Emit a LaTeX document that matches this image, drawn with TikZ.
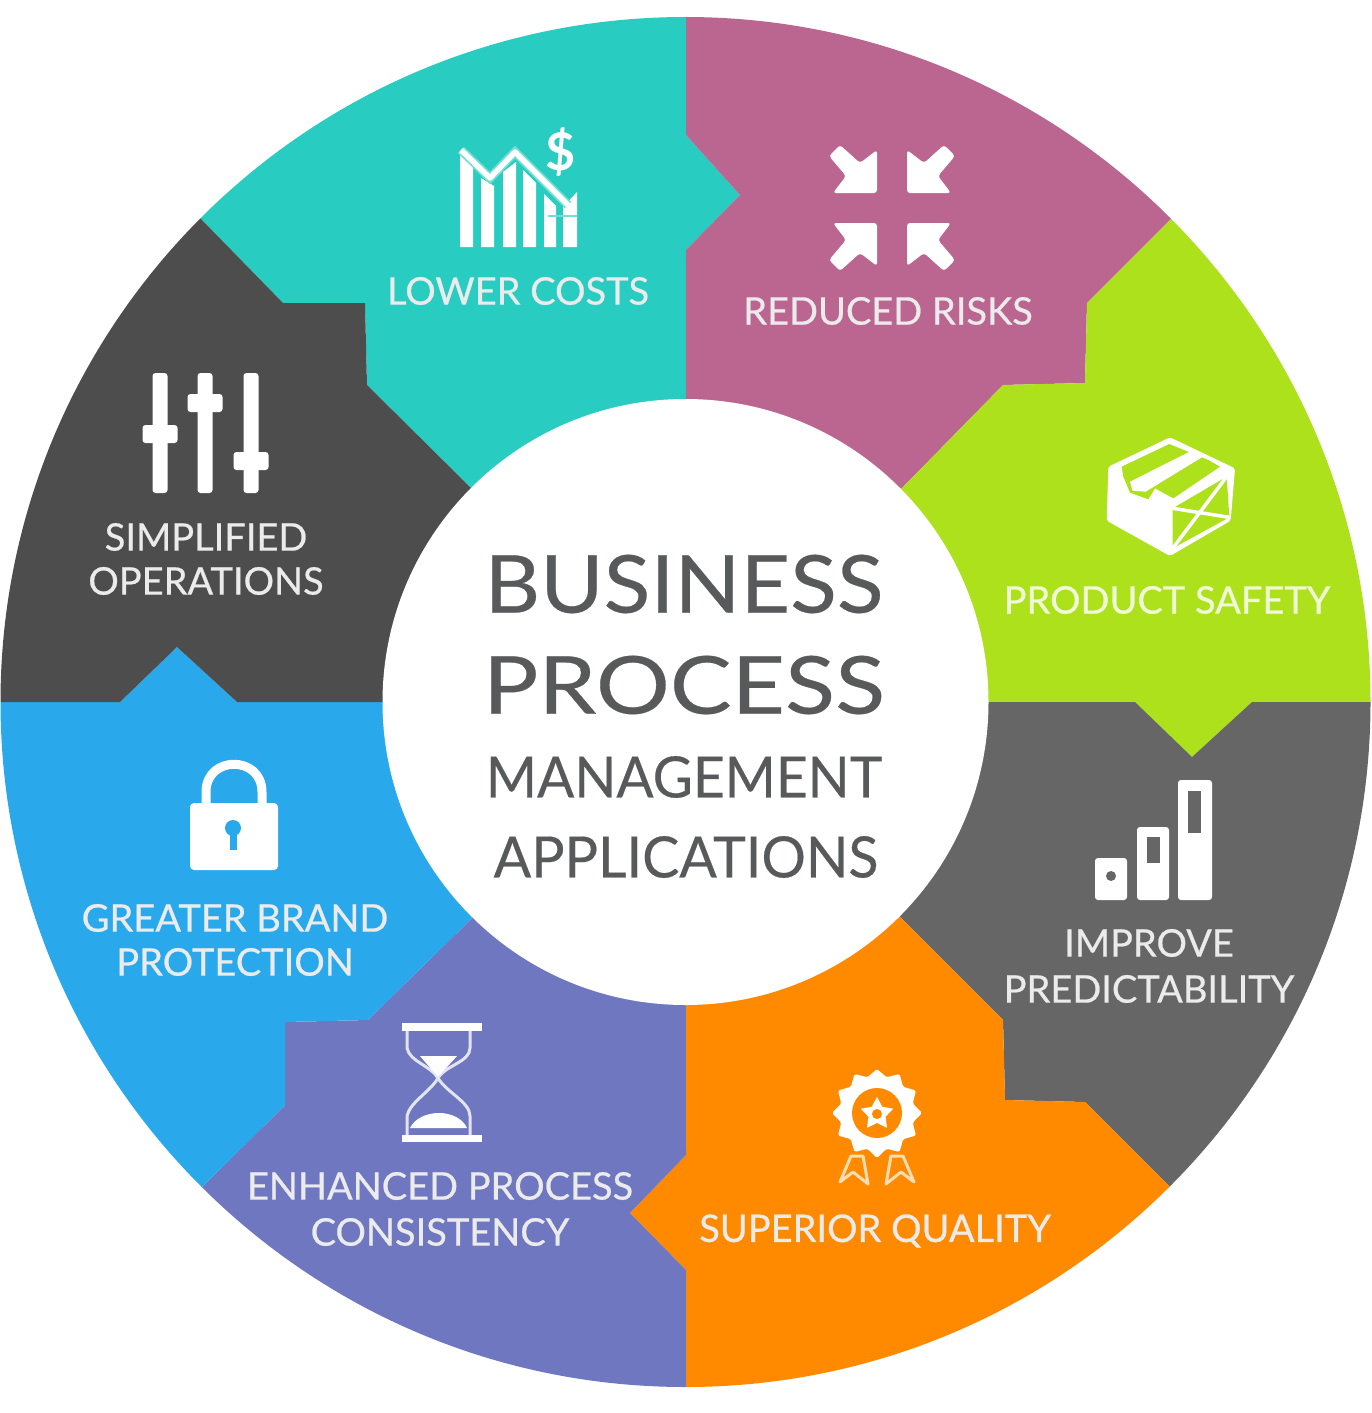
\documentclass[tikz,border=0pt]{standalone}
\usepackage{graphicx}
\usepackage{fontspec}
\setmainfont{Lato}
\newfontfamily\labelfont{Lato}[FakeBold=0.6]
\newfontfamily\hubfont{Lato}[FakeBold=0.3]
\definecolor{tealseg}{HTML}{29CCC0}
\definecolor{pinkseg}{HTML}{BA6690}
\definecolor{limeseg}{HTML}{ADE11C}
\definecolor{darkseg}{HTML}{4D4D4D}
\definecolor{greyseg}{HTML}{666666}
\definecolor{orangeseg}{HTML}{FF8A00}
\definecolor{purpleseg}{HTML}{6E77C0}
\definecolor{blueseg}{HTML}{29A9EB}
\definecolor{hubtext}{HTML}{58595B}
\tikzset{
  seglabel/.style = {text = white!92!black, font = \labelfont\fontsize{38}{44}\selectfont, align = center, inner sep = 0pt},
  seglabelwide/.style = {seglabel, font = \labelfont\fontsize{38}{46}\selectfont},
  hubbig/.style = {text = hubtext, font = \hubfont\fontsize{80}{80}\selectfont, inner sep = 0pt},
  hubsmall/.style = {text = hubtext, font = \hubfont\fontsize{57}{57}\selectfont, inner sep = 0pt},
  icon/.style = {fill = white, draw = none},
  iconline/.style = {draw = white, line join = round}
}
\begin{document}
\begin{tikzpicture}[x = 1pt, y = -1pt]
\useasboundingbox (0,0) rectangle (1371,1413);
\coordinate (c) at (685.5,702);
% segments, the rim comes from the clip
\begin{scope}
\clip (c) circle (685);
\fill[tealseg] (c) -- (686,250) -- (740,195) -- (686,135) -- (686,0) -- (100,0) -- (100,118) -- (202,220) -- (283,303) -- (365,303) -- (367,385) -- (470,487) -- cycle;
\fill[pinkseg] (c) -- (686,250) -- (740,195) -- (686,135) -- (686,0) -- (1271,0) -- (1271,118) -- (1170,220) -- (1087,303) -- (1085,383) -- (1003,385) -- (903,487) -- cycle;
\fill[limeseg] (c) -- (903,487) -- (1003,385) -- (1085,383) -- (1087,303) -- (1170,220) -- (1271,118) -- (1371,118) -- (1371,702) -- (1252,702) -- (1192,757) -- (1135,702) -- cycle;
\fill[greyseg] (c) -- (1135,702) -- (1192,757) -- (1252,702) -- (1371,702) -- (1371,1288) -- (1271,1288) -- (1170,1187) -- (1085,1102) -- (1005,1100) -- (1003,1020) -- (903,920) -- cycle;
\fill[orangeseg] (c) -- (903,920) -- (1003,1020) -- (1005,1100) -- (1085,1102) -- (1170,1187) -- (1271,1288) -- (1271,1400) -- (686,1400) -- (686,1270) -- (630,1213) -- (686,1155) -- cycle;
\fill[purpleseg] (c) -- (686,1155) -- (630,1213) -- (686,1270) -- (686,1400) -- (100,1400) -- (100,1288) -- (202,1187) -- (285,1105) -- (285,1022) -- (368,1020) -- (470,920) -- cycle;
\fill[blueseg] (c) -- (470,920) -- (368,1020) -- (285,1022) -- (285,1105) -- (202,1187) -- (100,1288) -- (0,1288) -- (0,702) -- (120,702) -- (177,647) -- (237,702) -- cycle;
\fill[darkseg] (c) -- (237,702) -- (177,647) -- (120,702) -- (0,702) -- (0,118) -- (100,118) -- (202,220) -- (283,303) -- (365,303) -- (367,385) -- (470,487) -- cycle;
\end{scope}
\node[circle, fill = white, minimum size = 606pt, inner sep = 0pt] (hub) at (c) {};
% centre text
\node[hubbig] (business) at (684,584) {\scalebox{1.077}[1]{BUSINESS}};
\node[hubbig] (process) at (684,685) {\scalebox{1.155}[1]{PROCESS}};
\node[hubsmall] (management) at (684,777) {\scalebox{0.966}[1]{MANAGEMENT}};
\node[hubsmall] (applications) at (686,857) {\scalebox{0.975}[1]{APPLICATIONS}};
% labels
\node[seglabel] (costs) at (518,291) {LOWER COSTS};
\node[seglabel] (risks) at (888,311) {REDUCED RISKS};
\node[seglabel, text = white!82!limeseg] (safety) at (1167,600) {PRODUCT SAFETY};
\node[seglabelwide] (predict) at (1149,966) {IMPROVE\\PREDICTABILITY};
\node[seglabel] (quality) at (875,1231) {SUPERIOR QUALITY};
\node[seglabelwide] (consist) at (440,1209) {ENHANCED PROCESS\\CONSISTENCY};
\node[seglabel] (brand) at (235,940) {GREATER BRAND\\PROTECTION};
\node[seglabel] (simple) at (206,559) {SIMPLIFIED\\OPERATIONS};
% falling bars
\fill[icon] (460,247) -- (460,153) -- (473,166) -- (473,247) -- cycle;
\fill[icon] (481,247) -- (481,178) -- (494,186) -- (494,247) -- cycle;
\fill[icon] (503,247) -- (503,172) -- (516,162) -- (516,247) -- cycle;
\fill[icon] (523,247) -- (523,170) -- (536,183) -- (536,247) -- cycle;
\fill[icon] (544,247) -- (544,194) -- (556,206) -- (556,247) -- cycle;
\fill[icon] (563,247) -- (563,207) -- (577,192) -- (577,247) -- cycle;
\draw[white!35!tealseg, line width = 9pt] (461,150) -- (490,178) -- (515,152) -- (568,205);
\draw[iconline, line width = 5.5pt] (461,150) -- (490,178) -- (515,152) -- (568,205);
\draw[white!35!tealseg, line width = 2pt] (548,216) -- (577,216);
\node[text = white, font = \fontsize{52}{52}\selectfont\bfseries, inner sep = 0pt] (dollar) at (561,152) {\$};
% arrows going in
\foreach \sx/\sy in {-1/-1, 1/-1, -1/1, 1/1} {
  \begin{scope}[shift = {(892,208)}, xscale = \sx, yscale = -\sy]
    \fill[icon, rounded corners = 3pt] (15,-15) -- (15,-58) -- (32,-45) -- (52,-63) -- (63,-52) -- (46,-32) -- (59,-15) -- cycle;
  \end{scope}
}
% box
\begin{scope}[shift = {(1080,420)}, scale = 1/3]
\fill[icon, rounded corners = 2pt] (270,52) -- (465,145) -- (452,302) -- (270,408) -- (80,302) -- (85,140) -- cycle;
\fill[limeseg] (125,140) -- (268,72) -- (385,120) -- (420,140) -- (280,235) -- (225,205) -- (205,238) -- (150,218) -- (130,170) -- cycle;
\fill[icon] (150,185) -- (335,92) -- (372,108) -- (197,215) -- (157,212) -- cycle;
\fill[limeseg] (278,265) -- (440,170) -- (448,292) -- (278,385) -- cycle;
\draw[iconline, line width = 3.5pt] (278,265) -- (448,292) (278,385) -- (440,170);
\end{scope}
% bars
\fill[icon, rounded corners = 3pt] (1095,858) rectangle (1127,900);
\fill[icon, rounded corners = 3pt] (1137,827) rectangle (1169,900);
\fill[icon, rounded corners = 3pt] (1178,780) rectangle (1212,900);
\fill[greyseg] (1111,876) circle (5);
\fill[greyseg] (1147,837) rectangle (1160,863);
\fill[greyseg] (1188,791) rectangle (1201,833);
% badge
\fill[icon, rounded corners = 1.5pt] (877,1069) \foreach \a in {1,...,23} { -- ({877+(iseven(\a) ? 45 : 37)*sin(15*\a)},{1113-(iseven(\a) ? 45 : 37)*cos(15*\a)}) } -- cycle;
\fill[orangeseg] (877,1113) circle (25);
\fill[icon] (877,1097) \foreach \a in {1,...,9} { -- ({877+(iseven(\a) ? 17 : 9)*sin(36*\a)},{1114-(iseven(\a) ? 17 : 9)*cos(36*\a)}) } -- cycle;
\fill[orangeseg] (877,1114) circle (5);
\draw[iconline, draw = white!70!orangeseg, line width = 3pt] (851,1156) -- (840,1182) -- (853,1172) -- (868,1184) -- (863,1156) -- cycle;
\draw[iconline, draw = white!70!orangeseg, line width = 3pt] (903,1156) -- (914,1182) -- (901,1172) -- (886,1184) -- (891,1156) -- cycle;
% hourglass
\fill[icon] (402,1023) rectangle (482,1031);
\fill[icon] (402,1135) rectangle (482,1142);
\draw[iconline, draw = white!80!purpleseg, line width = 3pt] (407,1031) -- (407,1048) .. controls (410,1062) and (430,1065) .. (438,1078) .. controls (446,1065) and (470,1062) .. (470,1048) -- (470,1031);
\draw[iconline, draw = white!80!purpleseg, line width = 3pt] (407,1135) -- (407,1116) .. controls (410,1102) and (430,1092) .. (438,1078) .. controls (446,1092) and (470,1102) .. (470,1116) -- (470,1135);
\fill[icon] (420,1056) -- (457,1056) -- (438,1077) -- cycle;
\fill[icon] (410,1128) .. controls (420,1108) and (458,1108) .. (467,1128) -- cycle;
% lock
\draw[iconline, line width = 9pt] (206,806) -- (206,792) .. controls (206,755) and (262,755) .. (262,792) -- (262,806);
\fill[icon, rounded corners = 4pt] (190,803) rectangle (278,870);
\fill[blueseg] (233,828) circle (8);
\fill[blueseg] (229.5,830) rectangle (236.5,850);
% sliders
\foreach \sx/\sy in {160/434, 205/403, 251/461} {
  \fill[icon, rounded corners = 3pt] ({\sx-7.5},373) rectangle ({\sx+7.5},493);
  \fill[icon, rounded corners = 3pt] ({\sx-17.5},{\sy-9}) rectangle ({\sx+17.5},{\sy+9});
}
\end{tikzpicture}
\end{document}
